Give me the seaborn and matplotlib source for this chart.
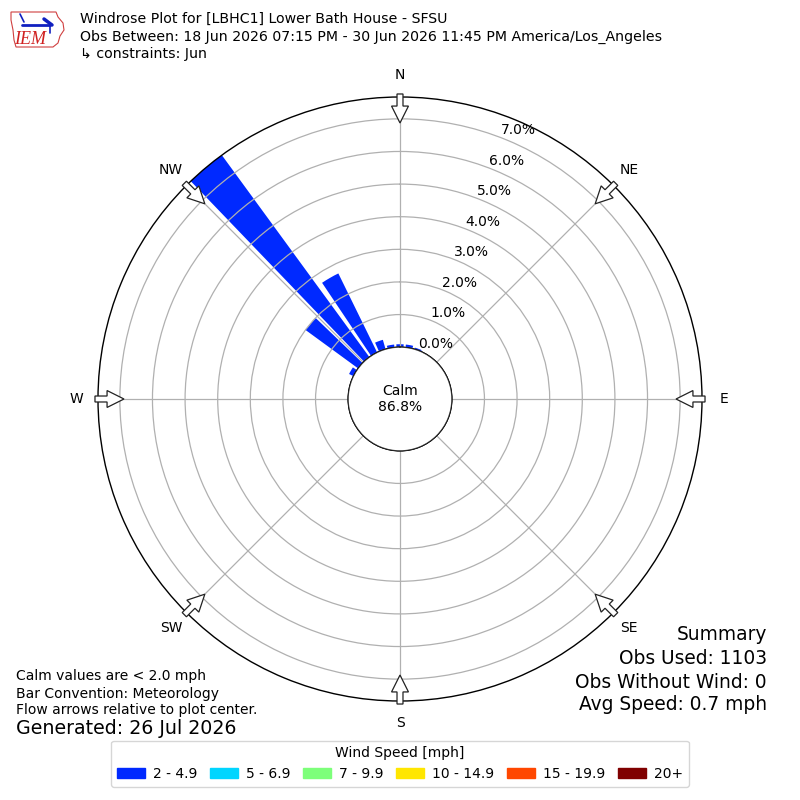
import numpy as np
import pandas as pd
import matplotlib
matplotlib.use("Agg")
import matplotlib.pyplot as plt
import matplotlib.patches as mpatches
import seaborn as sns

# wind direction bins (deg, meteorological) and frequency (%) per speed bin
directions = [300, 310, 320, 330, 340, 350, 0, 10, 20]
speed_2_49 = [0.15, 2.0, 7.8, 2.7, 0.3, 0.09, 0.09, 0.09, 0.05]
speed_labels = ["2 - 4.9", "5 - 6.9", "7 - 9.9", "10 - 14.9", "15 - 19.9", "20+"]
ring_values = [0, 1, 2, 3, 4, 5, 6, 7]
compass_labels = ["N", "NE", "E", "SE", "S", "SW", "W", "NW"]
compass_angles = [0, 45, 90, 135, 180, 225, 270, 315]
calm_pct = 86.8

title_lines = [
    "Windrose Plot for [LBHC1] Lower Bath House - SFSU",
    "Obs Between: 18 Jun 2026 07:15 PM - 30 Jun 2026 11:45 PM America/Los_Angeles",
    "\u21b3 constraints: Jun",
]
summary_lines = ["Summary", "Obs Used: 1103", "Obs Without Wind: 0", "Avg Speed: 0.7 mph"]
notes_lines = ["Calm values are < 2.0 mph", "Bar Convention: Meteorology",
               "Flow arrows relative to plot center."]

# table of frequencies: only the lowest speed class has data
freq = pd.DataFrame({"dir": directions, speed_labels[0]: speed_2_49})
for lab in speed_labels[1:]:
    freq[lab] = 0.0

sns.set_style("white")
plt.rcParams["font.family"] = ["DejaVu Sans"]
plt.rcParams.update({"text.color": "black", "axes.labelcolor": "black",
                     "xtick.color": "black", "ytick.color": "black"})

colors = [plt.get_cmap("jet")(i / 6.0) for i in range(1, 7)]

fig = plt.figure(figsize=(8, 8), dpi=100)
ax = fig.add_axes([0.1225, 0.12375, 0.755, 0.755], projection="polar")
ax.set_theta_zero_location("N")
ax.set_theta_direction(-1)
ax.set_rorigin(-1.589)
ax.set_ylim(0, 7.67)
ax.set_axisbelow("line")

theta = np.deg2rad(freq["dir"].values)
bottom = np.zeros(len(freq))
for lab, col in zip(speed_labels, colors):
    vals = freq[lab].values
    ax.bar(theta, vals, width=np.deg2rad(7.7), bottom=bottom, color=col,
           linewidth=0, label=lab, zorder=1)
    bottom = bottom + vals

# grid
ax.set_xticks(np.deg2rad(compass_angles))
ax.set_xticklabels([])
ax.set_yticks(ring_values)
ax.set_yticklabels(["%.1f%%" % v for v in ring_values], fontsize=10, color="black")
ax.set_rlabel_position(21)
ax.grid(True, color="#b0b0b0", linewidth=0.9)
ax.spines["polar"].set_color("black")
ax.spines["polar"].set_linewidth(1)

# compass labels and inward arrows (axes fraction coordinates)
for lab, ang in zip(compass_labels, compass_angles):
    a = np.deg2rad(ang)
    r_lab = 0.536
    ax.text(0.5 + r_lab * np.sin(a), 0.5 + r_lab * np.cos(a), lab,
            transform=ax.transAxes, ha="center", va="center", fontsize=10)
    r0 = 0.505
    L = 0.048
    arr = mpatches.FancyArrow(0.5 + r0 * np.sin(a), 0.5 + r0 * np.cos(a),
                              -L * np.sin(a), -L * np.cos(a), width=0.0099,
                              head_width=0.028, head_length=0.028,
                              length_includes_head=True, transform=ax.transAxes,
                              facecolor="white", edgecolor="#222222",
                              linewidth=0.9, zorder=5, clip_on=False)
    ax.add_patch(arr)

# calm circle
calm = mpatches.Circle((0.5, 0.5), 0.0858, transform=ax.transAxes,
                       facecolor="white", edgecolor="black", linewidth=1, zorder=4)
ax.add_patch(calm)
ax.text(0.5, 0.5, "Calm\n%.1f%%" % calm_pct, transform=ax.transAxes,
        ha="center", va="center", fontsize=10, zorder=6)

# header
for i, line in enumerate(title_lines):
    fig.text(80 / 800, 1 - (19 + i * 17.5) / 800, line, fontsize=10.15, va="center")

# logo
lax = fig.add_axes([8 / 800, 1 - 50 / 800, 58 / 800, 42 / 800])
lax.set_xlim(0, 58)
lax.set_ylim(0, 42)
lax.axis("off")
iowa = [(3, 38), (48, 38), (50, 33), (55, 27), (56, 20), (52, 14), (50, 7),
        (45, 3), (8, 3), (6, 10), (5, 20), (3, 30)]
lax.add_patch(mpatches.Polygon(iowa, closed=True, fill=False,
                               edgecolor="#d04040", linewidth=0.8))
lax.plot([14, 42], [25, 25], color="#1020c0", linewidth=2)
lax.plot([12, 16], [36, 28], color="#1020c0", linewidth=1.2)
lax.plot([36, 44], [31, 25], color="#1020c0", linewidth=2.5)
lax.plot([42, 42], [25, 17], color="#1020c0", linewidth=1.2)
lax.text(22, 10, "IEM", color="#d02020", fontsize=13, style="italic",
         family="Liberation Serif", ha="center", va="center")

# notes
for line, y in zip(notes_lines, [676, 694, 710]):
    fig.text(16 / 800, 1 - y / 800, line, fontsize=10, va="center")
fig.text(16 / 800, 1 - 728 / 800, "Generated: 26 Jul 2026", fontsize=13.7, va="center")

for line, y in zip(summary_lines, [635, 659, 682, 705]):
    fig.text(767 / 800, 1 - y / 800, line, fontsize=13.4, va="center", ha="right")

fig.legend(handles=[mpatches.Patch(color=c, label=l) for c, l in zip(colors, speed_labels)],
           loc="lower center", bbox_to_anchor=(0.5, 0.008), ncol=6, fontsize=10,
           title="Wind Speed [mph]", title_fontsize=10, frameon=True,
           columnspacing=0.9, handletextpad=0.6)

fig.savefig("out.png", dpi=100)
